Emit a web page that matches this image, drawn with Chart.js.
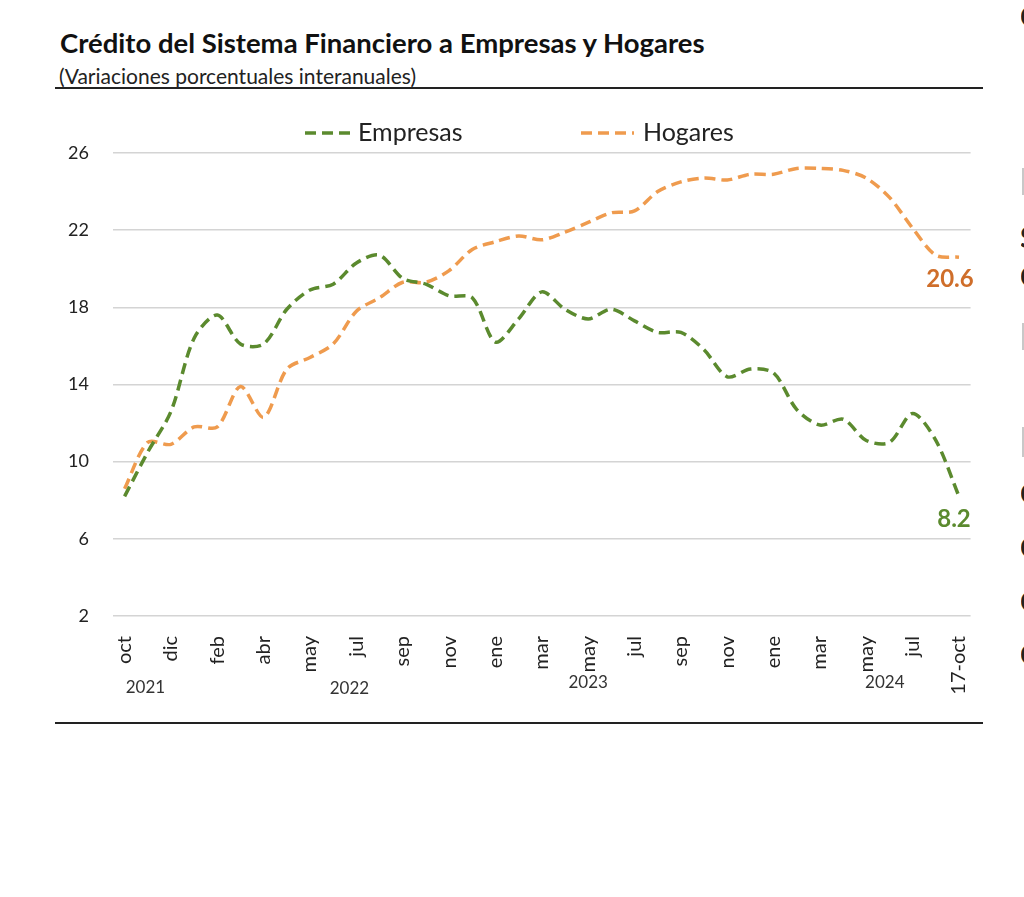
<!DOCTYPE html>
<html>
<head>
<meta charset="utf-8">
<script src="https://cdn.jsdelivr.net/npm/chart.js@4.4.1/dist/chart.umd.min.js"></script>
<style>
  html, body { margin: 0; padding: 0; background: #fff; }
  body { width: 1024px; height: 897px; position: relative; overflow: hidden; font-family: Lato, "Open Sans", sans-serif; color: #111; }
  #title { position: absolute; left: 60px; top: 29px; font-size: 27.5px; line-height: 1; font-weight: bold; white-space: nowrap; }
  #subtitle { position: absolute; left: 59px; top: 65px; font-size: 21px; line-height: 1; white-space: nowrap; color: #222; }
  .rule { position: absolute; left: 55px; width: 928px; height: 2px; background: #222; }
  #wrap { position: absolute; left: 55px; top: 108px; width: 940px; height: 602px; }
  #edge { position: absolute; left: 1021px; top: 0; width: 3px; height: 700px; overflow: hidden; font-size: 28px; line-height: 28px; font-weight: bold; color: #222; }
  #edge span { position: absolute; left: -1px; }
  #edge i { position: absolute; left: 1px; width: 1.5px; background: #c8c8c8; }
</style>
</head>
<body>
<div id="title">Crédito del Sistema Financiero a Empresas y Hogares</div>
<div id="subtitle">(Variaciones porcentuales interanuales)</div>
<div class="rule" style="top:87px"></div>
<div class="rule" style="top:722px"></div>
<div id="wrap"><canvas id="chart"></canvas></div>
<div id="edge">
  <span style="top:2px">C</span>
  <i style="top:168px;height:27px"></i>
  <span style="top:223px">S</span>
  <span style="top:262px">C</span>
  <i style="top:323px;height:27px"></i>
  <i style="top:427px;height:30px"></i>
  <span style="top:479px">C</span>
  <span style="top:533px">C</span>
  <span style="top:587px">C</span>
  <span style="top:640px">C</span>
</div>
<script>
// monthly, oct-2021 .. 17-oct-2024 (labels every other month as in the source)
const months = ['oct','', 'dic','', 'feb','', 'abr','', 'may','', 'jul','', 'sep','', 'nov','',
  'ene','', 'mar','', 'may','', 'jul','', 'sep','', 'nov','', 'ene','', 'mar','', 'may','', 'jul','', '17-oct'];

const empresas = [8.2, 10.5, 12.6, 16.4, 17.6, 16.1, 16.1, 17.9, 18.9, 19.2, 20.3, 20.7,
  19.5, 19.2, 18.6, 18.5, 16.2, 17.4, 18.8, 17.9, 17.4, 17.9, 17.3, 16.7,
  16.7, 15.8, 14.4, 14.8, 14.6, 12.7, 11.9, 12.2, 11.1, 11.0, 12.5, 11.1, 8.2];

const hogares = [8.6, 11.0, 10.9, 11.8, 11.8, 13.9, 12.3, 14.8, 15.4, 16.1, 17.8, 18.5,
  19.3, 19.3, 19.9, 21.0, 21.4, 21.7, 21.5, 21.9, 22.4, 22.9, 23.0, 24.0,
  24.5, 24.7, 24.6, 24.9, 24.9, 25.2, 25.2, 25.1, 24.7, 23.7, 22.1, 20.7, 20.6];

const years      = ['2021', '2022', '2023', '2024'];
const yearCenter = [0.9, 9.7, 20, 32.8];   // category index under which each year sits
const yearDrop   = [72, 73, 67, 67];

const GREEN = '#5b8a2e';
const ORANGE = '#ef9b4e';
const DASH = [11, 6];
const FONT = 'Lato, "Open Sans", sans-serif';

// legend drawn by hand: Chart.js pads legend rows by the same amount as item spacing
const legendItems = [
  { text: 'Empresas', color: GREEN,  x0: 305, x1: 351, tx: 358 },
  { text: 'Hogares',  color: ORANGE, x0: 581, x1: 634, tx: 643 },
];

const extras = {
  id: 'extras',
  afterDraw(chart) {
    const { ctx, chartArea, canvas } = chart;
    const x = chart.scales.x, y = chart.scales.y;
    const off = canvas.getBoundingClientRect().left;
    ctx.save();

    ctx.textBaseline = 'middle';
    ctx.textAlign = 'left';
    ctx.font = '25px ' + FONT;
    const ly = chartArea.top - 20;
    legendItems.forEach(it => {
      ctx.strokeStyle = it.color;
      ctx.lineWidth = 3.5;
      ctx.setLineDash(DASH);
      ctx.beginPath();
      ctx.moveTo(it.x0 - off, ly);
      ctx.lineTo(it.x1 - off, ly);
      ctx.stroke();
      ctx.setLineDash([]);
      ctx.fillStyle = '#222';
      ctx.fillText(it.text, it.tx - off, ly);
    });

    ctx.textAlign = 'center';
    ctx.fillStyle = '#333';
    ctx.font = '17px ' + FONT;
    years.forEach((yr, i) => {
      ctx.fillText(yr, x.getPixelForValue(yearCenter[i]), chartArea.bottom + yearDrop[i]);
    });

    // end-of-series value labels
    const last = months.length - 1;
    ctx.font = 'bold 24px ' + FONT;
    ctx.fillStyle = '#cf6e2a';
    ctx.fillText(hogares[last].toFixed(1), x.getPixelForValue(last) - 9, y.getPixelForValue(hogares[last]) + 22);
    ctx.fillStyle = GREEN;
    ctx.fillText(empresas[last].toFixed(1), x.getPixelForValue(last) - 5, y.getPixelForValue(empresas[last]) + 23);
    ctx.restore();
  }
};

new Chart(document.getElementById('chart').getContext('2d'), {
  type: 'line',
  data: {
    labels: months,
    datasets: [
      { label: 'Empresas', data: empresas, borderColor: GREEN, backgroundColor: GREEN,
        borderWidth: 3.5, borderDash: DASH, pointRadius: 0, tension: 0.3 },
      { label: 'Hogares', data: hogares, borderColor: ORANGE, backgroundColor: ORANGE,
        borderWidth: 3.5, borderDash: DASH, pointRadius: 0, tension: 0.3 },
    ],
  },
  options: {
    responsive: true,
    maintainAspectRatio: false,
    animation: false,
    layout: { padding: { top: 45, right: 0, bottom: 0, left: 0 } },
    plugins: {
      legend: { display: false },
      tooltip: { enabled: false },
    },
    scales: {
      x: {
        offset: true,
        grid: { display: false },
        border: { display: false },
        ticks: {
          autoSkip: false, maxRotation: 90, minRotation: 90, padding: 12,
          color: '#222', font: { family: FONT, size: 20 },
        },
        afterFit: s => { s.height = 94; },
      },
      y: {
        min: 2, max: 26,
        grid: { color: '#d4d4d4', lineWidth: 1.5, drawTicks: false },
        border: { display: false },
        ticks: { stepSize: 4, padding: 24, color: '#222', font: { family: FONT, size: 18 } },
        afterFit: s => { s.width = 58; },
      },
    },
  },
  plugins: [extras],
});
</script>
</body>
</html>
